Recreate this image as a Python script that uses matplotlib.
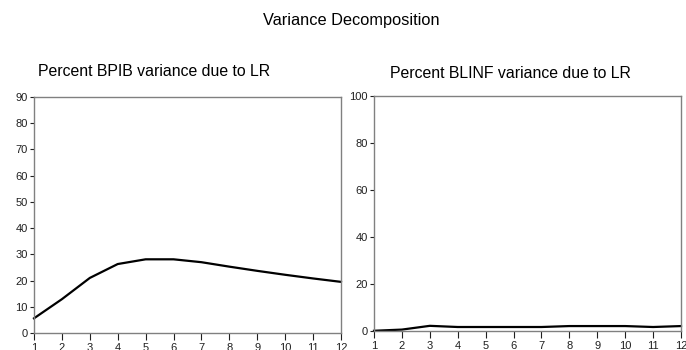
import matplotlib
matplotlib.use("Agg")
import matplotlib.pyplot as plt

plt.rcParams['font.family'] = ['Liberation Sans', 'DejaVu Sans']

periods = [1, 2, 3, 4, 5, 6, 7, 8, 9, 10, 11, 12]
bpib_due_lr = [5.6, 12.9, 21.0, 26.3, 28.1, 28.1, 27.0, 25.3, 23.7, 22.2, 20.8, 19.5]
blinf_due_lr = [0.1, 0.6, 2.2, 1.7, 1.7, 1.7, 1.7, 2.1, 2.1, 2.1, 1.7, 2.1]

left_yticks = [0, 10, 20, 30, 40, 50, 60, 70, 80, 90]
right_yticks = [0, 20, 40, 60, 80, 100]

W, H = 686, 350
fig = plt.figure(figsize=(W / 100, H / 100), dpi=100)


def px_axes(x0, y0, x1, y1):
    return fig.add_axes([x0 / W, 1 - y1 / H, (x1 - x0) / W, (y1 - y0) / H])


spine_color = '#808080'


def style(ax, yticks, ylim):
    ax.set_xlim(1, 12)
    ax.set_ylim(*ylim)
    ax.set_xticks(periods)
    ax.set_yticks(yticks)
    for s in ax.spines.values():
        s.set_color(spine_color)
        s.set_linewidth(1.0)
    ax.tick_params(axis='both', labelsize=8, colors='#202020', width=0.8)
    ax.tick_params(axis='x', length=5, pad=2)
    ax.tick_params(axis='y', length=3, pad=1.5)


ax1 = px_axes(34, 97, 341, 333)
ax1.plot(periods, bpib_due_lr, color='black', lw=1.6, clip_on=False)
style(ax1, left_yticks, (0, 90))

ax2 = px_axes(374, 96, 681, 331)
ax2.plot(periods, blinf_due_lr, color='black', lw=1.6, clip_on=False)
style(ax2, right_yticks, (0, 100))

fig.text(351 / W, 1 - 20 / H, 'Variance Decomposition', ha='center', va='center',
         fontsize=11.8)
fig.text(154 / W, 1 - 72 / H, 'Percent BPIB variance due to LR', ha='center',
         va='center', fontsize=11.4)
fig.text(510 / W, 1 - 74 / H, 'Percent BLINF variance due to LR', ha='center',
         va='center', fontsize=11.4)

fig.savefig('out.png', dpi=100)
